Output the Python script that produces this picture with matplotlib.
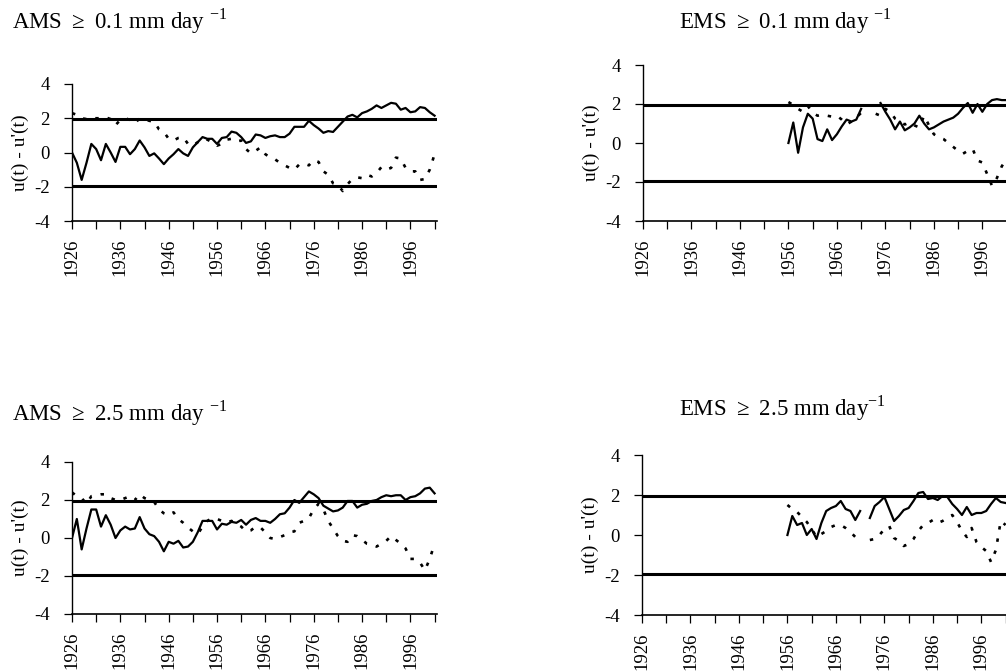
import numpy as np
import matplotlib
matplotlib.use('Agg')
import matplotlib.pyplot as plt

plt.rcParams['font.family'] = ['Liberation Serif', 'DejaVu Serif']
plt.rcParams['mathtext.fontset'] = 'custom'
plt.rcParams['mathtext.rm'] = 'Liberation Serif'
plt.rcParams['axes.unicode_minus'] = False

nan = np.nan

years_ams = np.arange(1926, 2002)
years_ems = np.arange(1956, 2002)

# AMS >= 0.1 mm/day : forward u(t) (solid) and backward u'(t) (dotted)
ams01_u = [0.0, -0.6, -1.6, -0.6, 0.5, 0.2, -0.45, 0.5, 0.0, -0.55,
           0.33, 0.33, -0.1, 0.2, 0.7, 0.3, -0.2, -0.05, -0.35, -0.68,
           -0.35, -0.1, 0.2, -0.05, -0.2, 0.3, 0.6, 0.9, 0.8, 0.8,
           0.5, 0.85, 0.9, 1.22, 1.15, 0.9, 0.56, 0.65, 1.05, 1.0,
           0.85, 0.95, 1.0, 0.9, 0.9, 1.1, 1.5, 1.5, 1.5, 1.85,
           1.6, 1.4, 1.15, 1.25, 1.2, 1.5, 1.8, 2.1, 2.2, 2.05,
           2.3, 2.4, 2.55, 2.75, 2.6, 2.75, 2.9, 2.85, 2.5, 2.6,
           2.35, 2.4, 2.65, 2.6, 2.35, 2.15]
ams01_ub = [2.3, 2.2, 2.0, 1.95, 2.0, 2.0, 2.0, 2.05, 1.95, 1.6,
            1.9, 2.0, 1.9, 1.7, 2.0, 1.95, 1.85, 1.8, 1.35, 1.2,
            0.8, 0.7, 0.85, 0.9, 0.5, 0.4, 0.6, 0.8, 0.75, 0.6,
            0.4, 0.5, 0.75, 0.8, 0.65, 0.7, 0.2, -0.05, 0.1, 0.3,
            -0.1, -0.3, -0.4, -0.6, -0.75, -0.9, -1.0, -0.7, -0.65, -0.75,
            -0.45, -0.55, -1.1, -1.3, -1.8, -1.9, -2.25, -1.85, -1.55, -1.45,
            -1.5, -1.3, -1.4, -1.2, -0.85, -1.0, -0.9, -0.3, -0.35, -0.9,
            -1.1, -1.1, -1.6, -1.55, -1.0, -0.1]

# AMS >= 2.5 mm/day
ams25_u = [0.0, 1.0, -0.6, 0.5, 1.5, 1.5, 0.6, 1.2, 0.7, 0.0,
           0.4, 0.6, 0.45, 0.5, 1.1, 0.5, 0.2, 0.1, -0.2, -0.7,
           -0.2, -0.3, -0.15, -0.5, -0.45, -0.2, 0.3, 0.9, 0.9, 0.9,
           0.45, 0.75, 0.7, 0.85, 0.8, 0.95, 0.7, 0.95, 1.05, 0.9,
           0.9, 0.8, 1.0, 1.25, 1.3, 1.6, 2.0, 1.85, 2.15, 2.45,
           2.3, 2.1, 1.7, 1.55, 1.4, 1.45, 1.6, 1.95, 1.95, 1.6,
           1.75, 1.8, 1.95, 2.0, 2.15, 2.25, 2.2, 2.25, 2.25, 2.0,
           2.15, 2.2, 2.35, 2.6, 2.65, 2.35]
ams25_ub = [2.4, 2.2, 2.1, 1.8, 2.2, 2.25, 2.3, 2.3, 2.1, 2.0,
            2.0, 2.1, 2.2, 2.0, 2.3, 2.1, 2.0, 1.9, 1.5, 1.3,
            1.2, 1.35, 1.0, 0.8, 0.55, 0.35, 0.2, 0.6, 0.9, 1.05,
            1.0, 0.9, 0.8, 0.9, 0.75, 0.6, 0.35, 0.4, 0.6, 0.55,
            0.3, 0.0, -0.05, 0.05, 0.15, 0.3, 0.35, 0.8, 0.9, 1.05,
            1.5, 1.8, 1.5, 0.9, 0.5, 0.1, -0.15, -0.2, 0.15, 0.1,
            -0.1, -0.3, -0.35, -0.45, -0.3, -0.15, 0.1, -0.1, -0.3, -0.55,
            -1.1, -1.1, -1.3, -1.7, -1.1, -0.3]

# EMS >= 0.1 mm/day (series start in 1956)
ems01_u = [0.0, 1.05, -0.5, 0.8, 1.5, 1.25, 0.2, 0.1, 0.7, 0.15,
           0.45, 0.85, 1.2, 1.1, 1.2, 1.75, nan, nan, nan, 2.05,
           1.6, 1.2, 0.7, 1.1, 0.65, 0.8, 1.0, 1.4, 1.0, 0.7,
           0.8, 0.95, 1.1, 1.2, 1.3, 1.5, 1.8, 2.05, 1.55, 2.0,
           1.6, 2.0, 2.2, 2.25, 2.2, 2.2]
ems01_ub = [2.1, 1.95, 1.75, 1.6, 1.9, 1.55, 1.4, 1.45, 1.4, 1.35,
            1.4, 1.2, 0.95, 1.1, 1.3, 1.55, nan, nan, 1.5, 1.4,
            1.75, 1.6, 1.25, 1.1, 0.95, 1.05, 0.9, 0.8, 1.4, 0.9,
            0.45, 0.3, 0.2, 0.0, -0.2, -0.4, -0.55, -0.4, -0.3, -0.9,
            -1.0, -1.6, -2.2, -1.8, -1.2, -0.8]

# EMS >= 2.5 mm/day
ems25_u = [0.0, 0.95, 0.5, 0.6, 0.0, 0.3, -0.2, 0.6, 1.2, 1.35,
           1.45, 1.7, 1.3, 1.2, 0.75, 1.2, nan, 0.85, 1.45, 1.65,
           1.9, 1.3, 0.7, 0.95, 1.25, 1.35, 1.7, 2.1, 2.15, 1.8,
           1.85, 1.75, 1.95, 1.9, 1.55, 1.3, 1.0, 1.4, 1.0, 1.1,
           1.1, 1.2, 1.55, 1.85, 1.65, 1.6]
ems25_ub = [1.5, 1.3, 1.15, 0.9, 0.65, 0.3, -0.1, 0.05, 0.2, 0.4,
            0.5, 0.5, 0.35, 0.15, -0.1, -0.25, nan, -0.25, -0.2, 0.0,
            0.3, 0.45, -0.15, -0.3, -0.55, -0.45, -0.2, 0.2, 0.5, 0.6,
            0.75, 0.6, 0.7, 0.85, 1.0, 0.65, 0.2, -0.1, 0.35, -0.35,
            -0.6, -0.8, -1.35, -0.75, 0.7, 0.5]

tick_years = np.arange(1926, 2002, 5)
crit = 1.96
W, H = 1006, 671


def draw_panel(fig, rect, years, u, ub, title, title_xy):
    ax = fig.add_axes(rect)
    ax.plot(years, u, color='black', linewidth=1.6)
    ax.plot(years, ub, color='black', linewidth=1.9, linestyle=(0, (1.3, 3.4)))
    ax.axhline(crit, color='black', linewidth=2.2)
    ax.axhline(-crit, color='black', linewidth=2.2)
    ax.set_xlim(1926, 2001.5)
    ax.set_ylim(-4, 4)
    ax.set_yticks([-4, -2, 0, 2, 4])
    ax.set_xticks(tick_years)
    ax.set_xticklabels([str(y) if (y - 1926) % 10 == 0 else '' for y in tick_years],
                       rotation=90)
    ax.spines['top'].set_visible(False)
    ax.spines['right'].set_visible(False)
    ax.spines['left'].set_linewidth(1.0)
    ax.spines['bottom'].set_linewidth(1.2)
    ax.tick_params(axis='both', labelsize=13.5, direction='out', length=6, width=0.9)
    ax.tick_params(axis='x', pad=7)
    ax.tick_params(axis='y', pad=10)
    ax.set_ylabel("u(t) - u'(t)", fontsize=14, labelpad=4)
    fig.text(title_xy[0] / W, 1 - title_xy[1] / H, title, fontsize=16.5,
             ha='left', va='center')
    return ax


fig = plt.figure(figsize=(10.06, 6.71), dpi=100)

draw_panel(fig, [72 / W, 1 - 221 / H, 365 / W, 137 / H], years_ams, ams01_u, ams01_ub,
           r'AMS $\geq$ 0.1 mm day $^{-1}$', (12, 21))
draw_panel(fig, [643 / W, 1 - 221 / H, 366 / W, 156 / H], years_ems, ems01_u, ems01_ub,
           r'EMS $\geq$ 0.1 mm day $^{-1}$', (679, 21))
draw_panel(fig, [72 / W, 1 - 614 / H, 365 / W, 152 / H], years_ams, ams25_u, ams25_ub,
           r'AMS $\geq$ 2.5 mm day $^{-1}$', (12, 413))
draw_panel(fig, [642 / W, 1 - 615 / H, 366 / W, 160 / H], years_ems, ems25_u, ems25_ub,
           r'EMS $\geq$ 2.5 mm day$^{-1}$', (679, 408))

fig.savefig('out.png', dpi=100)
